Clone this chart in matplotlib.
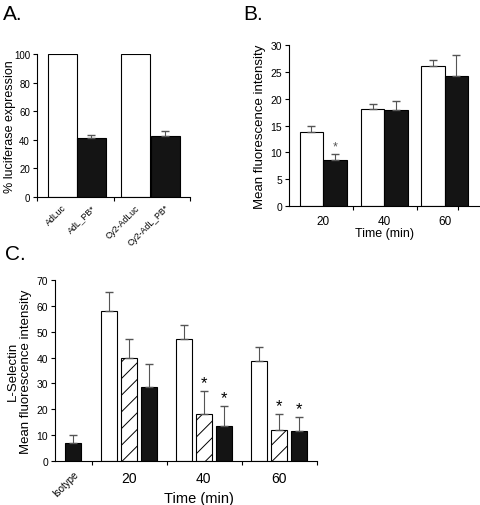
import matplotlib.pyplot as plt
import numpy as np

# panel A data
a_labels = ['AdLuc', 'AdL_PB*', 'Cy2-AdLuc', 'Cy2-AdL_PB*']
a_values = [100, 41.5, 100, 43]
a_errors = [0, 2, 0, 3]
a_colors = ['white', '#141414', 'white', '#141414']

# panel B data
b_groups = ['20', '40', '60']
b_white = [13.8, 18.0, 26.0]
b_white_err = [1.1, 1.0, 1.2]
b_black = [8.5, 17.9, 24.3]
b_black_err = [1.2, 1.7, 3.8]

# panel C data
c_groups = ['20', '40', '60']
c_iso = 7.0
c_iso_err = 3.0
c_white = [58, 47, 38.5]
c_white_err = [7.5, 5.5, 5.7]
c_hatch = [40, 18, 12]
c_hatch_err = [7.3, 9.0, 6.2]
c_black = [28.5, 13.5, 11.5]
c_black_err = [9.2, 7.8, 5.4]
c_star_hatch = [False, True, True]
c_star_black = [False, True, True]

plt.rcParams['font.family'] = 'Liberation Sans'
plt.rcParams['hatch.linewidth'] = 0.7
plt.rcParams['hatch.color'] = '#555555'

ERR = '#555555'
fig = plt.figure(figsize=(4.8, 5.06), dpi=100)


def style(ax):
    for s in ['top', 'right']:
        ax.spines[s].set_visible(False)
    ax.spines['left'].set_linewidth(0.8)
    ax.spines['bottom'].set_linewidth(0.8)
    ax.tick_params(length=3, width=0.8, labelsize=7.5, pad=2)


# ---- A ----
axA = fig.add_axes([37/480, 1 - 198/506, 153/480, 143/506])
style(axA)
xa = np.array([0.88, 1.88, 3.4, 4.43])
axA.bar(xa, a_values, width=1.0, color=a_colors, edgecolor='black', linewidth=0.8)
for x, v, e in zip(xa, a_values, a_errors):
    if e:
        axA.errorbar(x, v, yerr=[[0], [e]], fmt='none', ecolor=ERR, capsize=3, elinewidth=0.8)
axA.set_xlim(0, 5.28)
axA.set_ylim(0, 100)
axA.set_yticks(range(0, 101, 20))
axA.set_xticks([0, 2.66, 5.28])
axA.set_xticklabels([])
axA.tick_params(axis='y', labelsize=7)
for x, lab in zip(xa, a_labels):
    axA.text(x + 0.2, -4, lab, rotation=45, ha='right', va='top', fontsize=6.3)
axA.set_ylabel('% luciferase expression', fontsize=9)
axA.yaxis.set_label_coords(-0.14, 0.5)
fig.text(3/480, 1 - 15/506, 'A.', fontsize=15, va='center')

# ---- B ----
axB = fig.add_axes([289/480, 1 - 207/506, 191/480, 161/506])
style(axB)
xb = np.array([1.45, 4.06, 6.62])
axB.bar(xb - 0.5, b_white, width=1.0, color='white', edgecolor='black', linewidth=0.8)
axB.bar(xb + 0.5, b_black, width=1.0, color='#141414', edgecolor='black', linewidth=0.8)
axB.errorbar(xb - 0.5, b_white, yerr=[np.zeros(3), b_white_err], fmt='none', ecolor=ERR, capsize=3, elinewidth=0.8)
axB.errorbar(xb + 0.5, b_black, yerr=[np.zeros(3), b_black_err], fmt='none', ecolor=ERR, capsize=3, elinewidth=0.8)
axB.text(xb[0] + 0.5, b_black[0] + b_black_err[0] + 0.3, '*', ha='center', va='bottom', fontsize=9, color=ERR)
axB.set_xlim(0, 8.13)
axB.set_ylim(0, 30)
axB.set_yticks(range(0, 31, 5))
axB.set_xticks([2.72, 5.45, 7.19])
axB.set_xticklabels([])
for x, lab in zip(xb, b_groups):
    axB.text(x, -1.6, lab, ha='center', va='top', fontsize=8.5)
axB.text(xb[1], -4.0, 'Time (min)', ha='center', va='top', fontsize=9)
axB.set_ylabel('Mean fluorescence intensity', fontsize=9.5, labelpad=3)
fig.text(243/480, 1 - 15/506, 'B.', fontsize=15, va='center')

# ---- C ----
axC = fig.add_axes([55/480, 1 - 462/506, 262/480, 181/506])
style(axC)
xc = np.array([4.625, 9.3, 14.0])
off = 1.25
w = 1.0
axC.bar(1.125, c_iso, width=w, color='#141414', edgecolor='black', linewidth=0.8)
axC.errorbar(1.125, c_iso, yerr=[[0], [c_iso_err]], fmt='none', ecolor=ERR, capsize=3, elinewidth=0.8)
axC.bar(xc - off, c_white, width=w, color='white', edgecolor='black', linewidth=0.8)
axC.bar(xc, c_hatch, width=w, color='white', edgecolor='black', linewidth=0.8, hatch='//')
axC.bar(xc + off, c_black, width=w, color='#141414', edgecolor='black', linewidth=0.8)
for xs, vals, errs in [(xc - off, c_white, c_white_err), (xc, c_hatch, c_hatch_err), (xc + off, c_black, c_black_err)]:
    axC.errorbar(xs, vals, yerr=[np.zeros(3), errs], fmt='none', ecolor=ERR, capsize=3, elinewidth=0.8)
for i in range(3):
    if c_star_hatch[i]:
        axC.text(xc[i], c_hatch[i] + c_hatch_err[i] + 0.5, '*', ha='center', va='bottom', fontsize=12)
    if c_star_black[i]:
        axC.text(xc[i] + off, c_black[i] + c_black_err[i] + 0.5, '*', ha='center', va='bottom', fontsize=12)
axC.set_xlim(0, 16.375)
axC.set_ylim(0, 70)
axC.set_yticks(range(0, 71, 10))
axC.set_xticks([2.31, 7.0, 11.69, 16.375])
axC.set_xticklabels([])
for x, lab in zip(xc, c_groups):
    axC.text(x, -4, lab, ha='center', va='top', fontsize=10)
axC.text(1.6, -3, 'Isotype', rotation=45, ha='right', va='top', fontsize=7)
axC.text(xc[1] - 0.3, -11.5, 'Time (min)', ha='center', va='top', fontsize=10.5)
axC.set_ylabel('L-Selectin\nMean fluorescence intensity', fontsize=9.5, labelpad=3)
fig.text(5/480, 1 - 255/506, 'C.', fontsize=15, va='center')

fig.savefig('out.png', dpi=100)
